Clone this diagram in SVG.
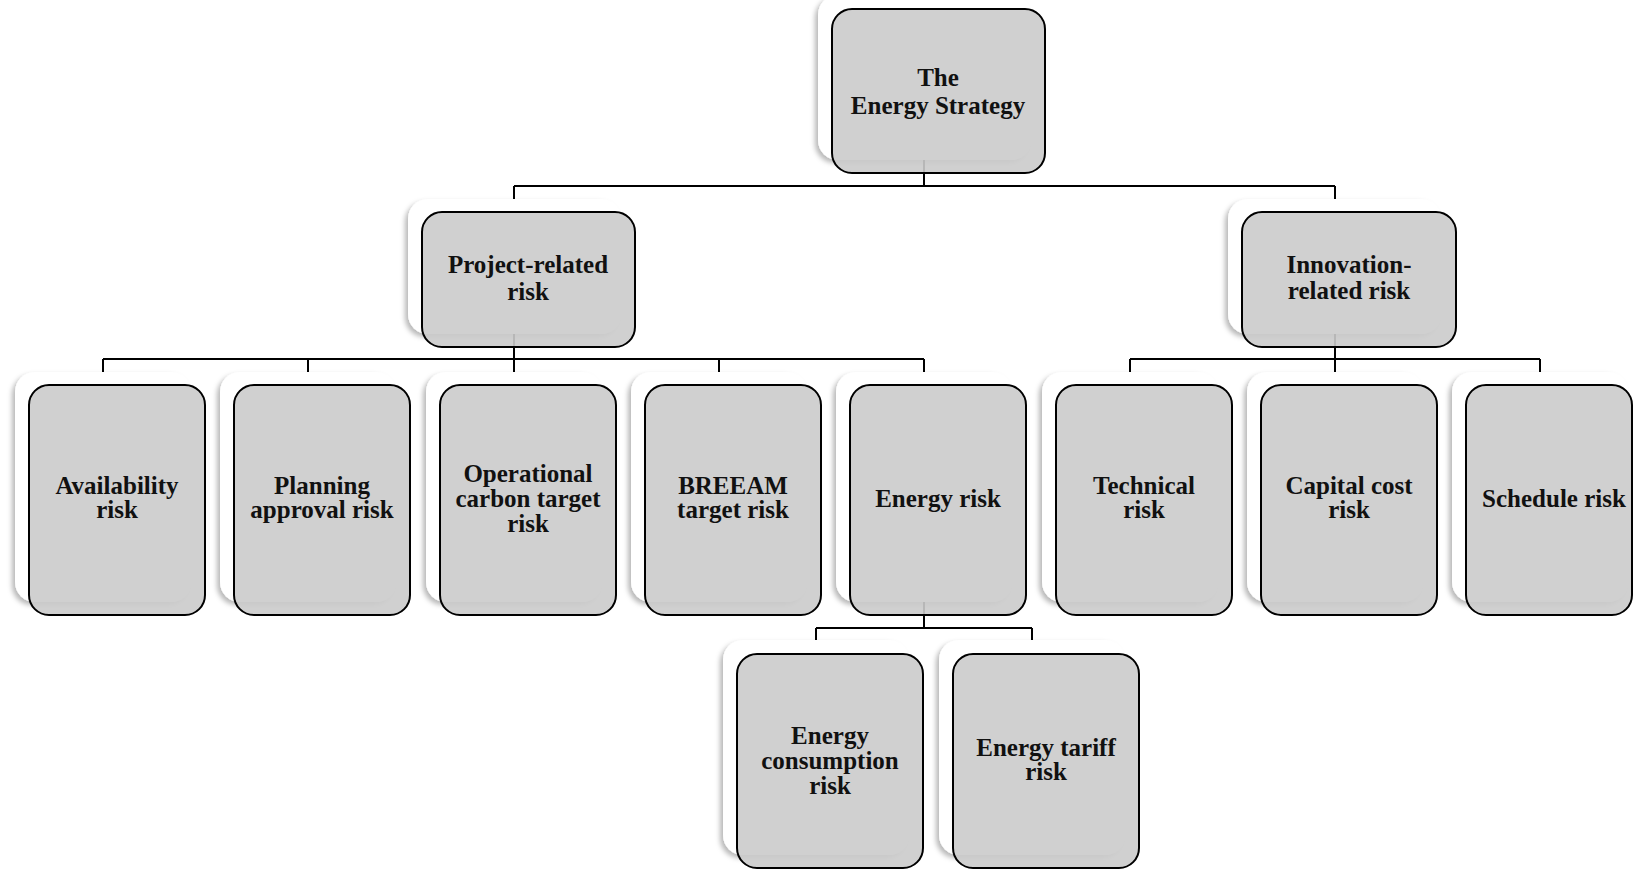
<svg xmlns="http://www.w3.org/2000/svg" width="1636" height="870" viewBox="0 0 1636 870">
<style>
.card{fill:#fff;filter:url(#sh)}
.box{fill:#cbcbcb;fill-opacity:0.9;stroke:#000;stroke-width:2}
.t{font-family:"Liberation Serif","Times New Roman",serif;font-weight:bold;font-size:25px;text-anchor:middle;fill:#111}
.c{stroke:#000;stroke-width:2;fill:none}
</style>
<defs>
<filter id="sh" x="-10%" y="-10%" width="120%" height="120%">
<feDropShadow dx="-3" dy="3" stdDeviation="2.5" flood-color="#000" flood-opacity="0.28"/>
</filter>
</defs>
<rect width="1636" height="870" fill="#fff"/>
<g id="connectors">
<path class="c" d="M924 160V186M514 186H1335M514 186V199M1335 186V199"/>
<path class="c" d="M514 334V359M103 359H924M103 359V372M308 359V372M514 359V372M719 359V372M924 359V372"/>
<path class="c" d="M1335 334V359M1130 359H1540M1130 359V372M1335 359V372M1540 359V372"/>
<path class="c" d="M924 602V628M816 628H1032M816 628V640M1032 628V640"/>
</g>
<g id="n-strategy">
<rect class="card" x="818" y="-5" width="213" height="165" rx="20"/>
<rect class="box" x="832" y="9" width="213" height="164" rx="20"/>
<text class="t" x="938" y="86">The</text>
<text class="t" x="938" y="114">Energy Strategy</text>
</g>
<g id="n-project">
<rect class="card" x="408" y="199" width="213" height="135" rx="20"/>
<rect class="box" x="422" y="212" width="213" height="135" rx="20"/>
<text class="t" x="528" y="273">Project-related</text>
<text class="t" x="528" y="300">risk</text>
</g>
<g id="n-innovation">
<rect class="card" x="1228" y="199" width="213" height="135" rx="20"/>
<rect class="box" x="1242" y="212" width="214" height="135" rx="20"/>
<text class="t" x="1349" y="273">Innovation-</text>
<text class="t" x="1349" y="299">related risk</text>
</g>
<g id="n-availability">
<rect class="card" x="15" y="372" width="176" height="230" rx="20"/>
<rect class="box" x="29" y="385" width="176" height="230" rx="20"/>
<text class="t" x="117" y="494">Availability</text>
<text class="t" x="117" y="518">risk</text>
</g>
<g id="n-planning">
<rect class="card" x="220" y="372" width="176" height="230" rx="20"/>
<rect class="box" x="234" y="385" width="176" height="230" rx="20"/>
<text class="t" x="322" y="494">Planning</text>
<text class="t" x="322" y="518">approval risk</text>
</g>
<g id="n-operational">
<rect class="card" x="426" y="372" width="176" height="230" rx="20"/>
<rect class="box" x="440" y="385" width="176" height="230" rx="20"/>
<text class="t" x="528" y="482">Operational</text>
<text class="t" x="528" y="507">carbon target</text>
<text class="t" x="528" y="532">risk</text>
</g>
<g id="n-breeam">
<rect class="card" x="631" y="372" width="176" height="230" rx="20"/>
<rect class="box" x="645" y="385" width="176" height="230" rx="20"/>
<text class="t" x="733" y="494">BREEAM</text>
<text class="t" x="733" y="518">target risk</text>
</g>
<g id="n-energy">
<rect class="card" x="836" y="372" width="176" height="230" rx="20"/>
<rect class="box" x="850" y="385" width="176" height="230" rx="20"/>
<text class="t" x="938" y="507">Energy risk</text>
</g>
<g id="n-technical">
<rect class="card" x="1042" y="372" width="176" height="230" rx="20"/>
<rect class="box" x="1056" y="385" width="176" height="230" rx="20"/>
<text class="t" x="1144" y="494">Technical</text>
<text class="t" x="1144" y="518">risk</text>
</g>
<g id="n-capital">
<rect class="card" x="1247" y="372" width="176" height="230" rx="20"/>
<rect class="box" x="1261" y="385" width="176" height="230" rx="20"/>
<text class="t" x="1349" y="494">Capital cost</text>
<text class="t" x="1349" y="518">risk</text>
</g>
<g id="n-schedule">
<rect class="card" x="1452" y="372" width="176" height="230" rx="20"/>
<rect class="box" x="1466" y="385" width="166" height="230" rx="20"/>
<text class="t" x="1554" y="507">Schedule risk</text>
</g>
<g id="n-consumption">
<rect class="card" x="723" y="640" width="186" height="215" rx="20"/>
<rect class="box" x="737" y="654" width="186" height="214" rx="20"/>
<text class="t" x="830" y="744">Energy</text>
<text class="t" x="830" y="769">consumption</text>
<text class="t" x="830" y="794">risk</text>
</g>
<g id="n-tariff">
<rect class="card" x="939" y="640" width="186" height="215" rx="20"/>
<rect class="box" x="953" y="654" width="186" height="214" rx="20"/>
<text class="t" x="1046" y="756">Energy tariff</text>
<text class="t" x="1046" y="780">risk</text>
</g>
</svg>
